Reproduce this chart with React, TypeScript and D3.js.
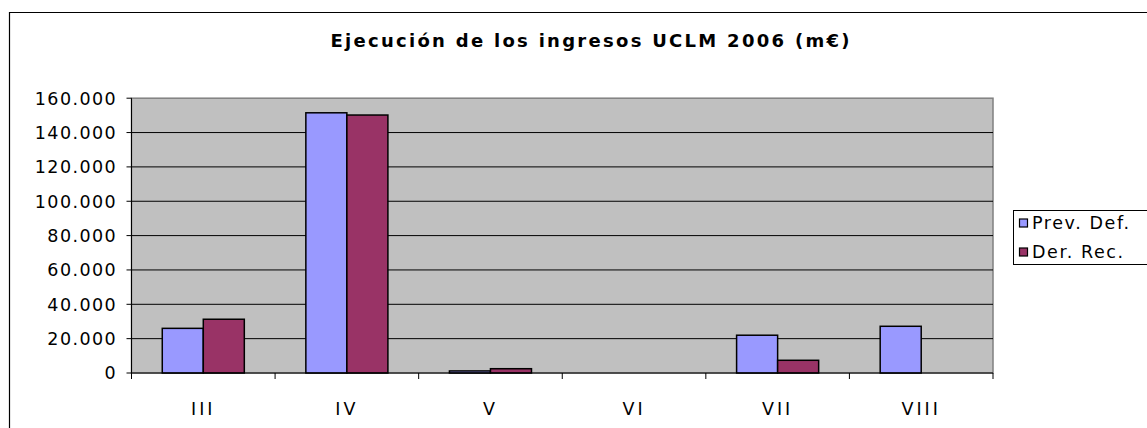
import React from "react";
import * as d3 from "d3";

const categories = ["III", "IV", "V", "VI", "VII", "VIII"];
const seriesNames = ["Prev. Def.", "Der. Rec."];
const prevDef = [26000, 151500, 1200, 0, 22000, 27200];
const derRec = [31300, 150200, 2500, 0, 7400, 0];
const yTicks = [0, 20000, 40000, 60000, 80000, 100000, 120000, 140000, 160000];
const colors = ["#9999FF", "#993366"];
const title = "Ejecución de los ingresos UCLM 2006 (m€)";

const W = 1147;
const H = 428;
const plot = { left: 131.5, right: 993, top: 98.2, bottom: 373 };
const font = "'DejaVu Sans', Verdana, sans-serif";

export default function App() {
  const x = d3.scaleBand<string>().domain(categories).range([plot.left, plot.right]).padding(0);
  const xs = d3
    .scaleBand<string>()
    .domain(seriesNames)
    .range([0, x.bandwidth()])
    .paddingInner(0)
    .paddingOuter(0.75);
  const y = d3.scaleLinear().domain([0, 160000]).range([plot.bottom, plot.top]);
  const fmt = (v: number) => d3.format(",")(v).replace(/,/g, ".");
  const series = [prevDef, derRec];

  return (
    <svg
      width={W}
      height={H}
      style={{ position: "absolute", left: 0, top: 0, background: "#fff" }}
      fontFamily={font}
    >
      <rect x={0} y={0} width={W} height={H} fill="#fff" />
      {/* outer chart border */}
      <path d={`M9.5,${H + 5} V12.5 H${W + 5}`} fill="none" stroke="#000" strokeWidth={1.2} />
      {/* title */}
      <text
        x={590}
        y={47}
        textAnchor="middle"
        fontSize={18}
        fontWeight="bold"
        textLength={519}
        lengthAdjust="spacing"
        fill="#000"
      >
        {title}
      </text>
      {/* plot area */}
      <rect
        x={plot.left}
        y={plot.top}
        width={plot.right - plot.left}
        height={plot.bottom - plot.top}
        fill="#C0C0C0"
        stroke="#808080"
        strokeWidth={1.5}
      />
      {/* gridlines */}
      {yTicks.slice(1, -1).map((t) => (
        <line
          key={t}
          x1={plot.left}
          x2={plot.right}
          y1={y(t)}
          y2={y(t)}
          stroke="#000"
          strokeWidth={1}
        />
      ))}
      {/* bars */}
      {categories.map((c, i) => (
        <g key={c}>
          {series.map((s, j) => {
            const v = s[i];
            if (v <= 0) return null;
            const bx = (x(c) as number) + (xs(seriesNames[j]) as number);
            return (
              <rect
                key={j}
                x={bx}
                y={y(v)}
                width={xs.bandwidth()}
                height={y(0) - y(v)}
                fill={colors[j]}
                stroke="#000"
                strokeWidth={1.5}
              />
            );
          })}
        </g>
      ))}
      {/* y axis */}
      <line x1={plot.left} x2={plot.left} y1={plot.top} y2={plot.bottom} stroke="#000" strokeWidth={1} />
      {yTicks.map((t) => (
        <g key={t}>
          <line x1={plot.left - 5} x2={plot.left} y1={y(t)} y2={y(t)} stroke="#000" />
          <text
            x={117}
            y={y(t)}
            dy="0.36em"
            textAnchor="end"
            fontSize={17.5}
            letterSpacing={1.4}
            fill="#000"
          >
            {fmt(t)}
          </text>
        </g>
      ))}
      {/* x axis */}
      <line x1={plot.left} x2={plot.right} y1={plot.bottom} y2={plot.bottom} stroke="#000" strokeWidth={1} />
      {categories.map((c) => (
        <line
          key={"t" + c}
          x1={x(c) as number}
          x2={x(c) as number}
          y1={plot.bottom}
          y2={plot.bottom + 6}
          stroke="#000"
        />
      ))}
      <line x1={plot.right} x2={plot.right} y1={plot.bottom} y2={plot.bottom + 6} stroke="#000" />
      {categories.map((c) => (
        <text
          key={"l" + c}
          x={(x(c) as number) + x.bandwidth() / 2}
          y={415}
          textAnchor="middle"
          fontSize={17.5}
          letterSpacing={3}
          fill="#000"
        >
          {c}
        </text>
      ))}
      {/* legend */}
      <rect x={1013.5} y={210.5} width={150} height={54} fill="#fff" stroke="#000" strokeWidth={1} />
      {seriesNames.map((n, j) => (
        <g key={n}>
          <rect
            x={1019.5}
            y={219 + j * 29}
            width={8}
            height={8}
            fill={colors[j]}
            stroke="#000"
            strokeWidth={1.2}
          />
          <text x={1032} y={229 + j * 29} fontSize={17.5} letterSpacing={1.6} fill="#000">
            {n}
          </text>
        </g>
      ))}
    </svg>
  );
}
